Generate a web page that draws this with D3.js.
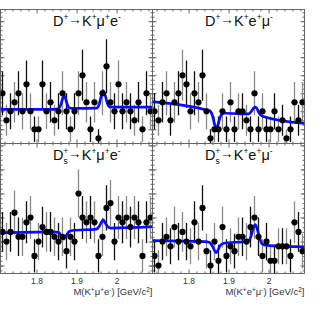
<!DOCTYPE html>
<html>
<head>
<meta charset="utf-8">
<script src="https://cdn.jsdelivr.net/npm/d3@7"></script>
<style>
body { margin: 0; background: #fff; }
svg { display: block; font-family: "Liberation Sans", Arial, sans-serif; }
</style>
</head>
<body>
<div id="chart"></div>
<script>

// 10 MeV bins between 1.71 and 2.09 GeV
var massBins = d3.range(1.715, 2.09, 0.01);

// events per bin
var nDKmue   = [6,3,4,5,6,4,7,4,2,2,7,4,5,3,4,6,4,2,4,6,8,5,2,5,1,6,9,5,4,7,4,5,4,3,5,2,6,4];
var nDKemu   = [4,3,5,6,3,5,6,8,7,4,6,5,8,4,1,2,2,4,2,5,2,4,4,3,2,6,2,4,2,2,4,2,3,1,2,5,3,5];
var nDsKmue  = [17,15,17,21,16,16,19,20,12,15,18,17,17,16,15,16,13,16,15,25,20,19,20,19,12,16,22,23,15,20,19,20,18,20,19,12,19,20];
var nDsKemu  = [12,10,15,16,14,18,15,17,15,14,19,15,22,13,10,15,11,18,12,14,13,16,16,15,18,20,16,12,15,11,11,14,14,14,12,19,17,13];

// fit curves [mass, events]
var fitDKmue = [[1.71,4.22],[1.845,4.22],[1.855,4.3],[1.861,4.75],[1.866,5.5],[1.869,5.8],[1.872,5.5],[1.877,4.75],[1.883,4.35],[1.9,4.32],
                [1.95,4.35],[1.957,4.8],[1.963,5.9],[1.967,6.3],[1.971,5.9],[1.977,4.9],[1.983,4.48],[2.0,4.45],[2.09,4.45]];
var fitDKemu = [[1.71,5.07],[1.78,4.7],[1.84,4.2],[1.853,4.05],[1.86,3.5],[1.865,2.6],[1.869,2.15],[1.873,2.4],[1.878,3.2],[1.884,3.7],[1.89,3.78],
                [1.95,3.7],[1.958,4.05],[1.964,4.4],[1.967,4.45],[1.971,4.3],[1.977,3.75],[1.985,3.45],[2.09,2.65]];
var fitDsKmue = [[1.71,16.8],[1.84,17.0],[1.855,16.9],[1.862,16.2],[1.868,15.5],[1.874,16.2],[1.882,17.1],[1.89,17.3],
                 [1.95,17.6],[1.957,18.2],[1.963,19.1],[1.967,19.5],[1.971,19.0],[1.977,18.2],[1.985,17.8],[2.09,18.1]];
var fitDsKemu = [[1.71,15.2],[1.84,15.0],[1.853,14.8],[1.86,14.0],[1.866,13.0],[1.869,12.7],[1.873,13.1],[1.879,14.1],[1.886,14.6],
                 [1.95,15.1],[1.957,16.3],[1.963,18.0],[1.967,18.5],[1.971,17.8],[1.977,16.0],[1.984,14.5],[1.995,14.2],[2.09,13.9]];

var xMajor = [1.8, 1.9, 2.0];
var xLabels = ["1.8", "1.9", "2"];

var svg = d3.select("#chart").append("svg")
    .attr("width", 322)
    .attr("height", 309);

var colX = [0.5, 152.5];
var rowY = [[9.5, 143.5], [143.5, 273.5]];
var rowDomain = [[0.42, 15.3], [8.35, 35.4]];
var rowYMajor = [2, 5];
var rowYMinor = [0.5, 1];

var panels = [
    { col: 0, row: 0, counts: nDKmue, fit: fitDKmue,
      title: [["D",""],["+","sup"],["\u2192","arr"],["K",""],["+","sup"],["\u03bc",""],["+","sup"],["e",""],["-","sup"]] },
    { col: 1, row: 0, counts: nDKemu, fit: fitDKemu,
      title: [["D",""],["+","sup"],["\u2192","arr"],["K",""],["+","sup"],["e",""],["+","sup"],["\u03bc",""],["-","sup"]] },
    { col: 0, row: 1, counts: nDsKmue, fit: fitDsKmue, xtitle: "mue",
      title: [["D",""],["s","sub"],["+","supb"],["\u2192","arr"],["K",""],["+","sup"],["\u03bc",""],["+","sup"],["e",""],["-","sup"]] },
    { col: 1, row: 1, counts: nDsKemu, fit: fitDsKemu, xtitle: "emu",
      title: [["D",""],["s","sub"],["+","supb"],["\u2192","arr"],["K",""],["+","sup"],["e",""],["+","sup"],["\u03bc",""],["-","sup"]] }
];

function styleAxis(g) {
    g.select(".domain").remove();
    g.selectAll(".tick line").attr("stroke", "#666").attr("stroke-width", 1);
    g.selectAll(".tick text").attr("fill", "#333").style("font-size", "8.5px")
        .style("font-family", "'Liberation Sans', Arial, sans-serif");
}

function drawPanel(p, idx) {
    var x0 = colX[p.col], x1 = x0 + 152;
    var y0 = rowY[p.row][0], y1 = rowY[p.row][1];

    var x = d3.scaleLinear().domain([1.71, 2.09]).range([x0, x1]);
    var y = d3.scaleLinear().domain(rowDomain[p.row]).range([y1, y0]);

    var g = svg.append("g");

    g.append("clipPath").attr("id", "clip" + idx)
        .append("rect").attr("x", x0).attr("y", y0).attr("width", x1 - x0).attr("height", y1 - y0);

    // axes, ticks pointing inwards
    var xMinor = d3.range(1.72, 2.09, 0.02).filter(function (v) {
        return xMajor.every(function (m) { return Math.abs(m - v) > 0.005; });
    });
    var dom = rowDomain[p.row];
    var yMaj = d3.range(Math.ceil(dom[0] / rowYMajor[p.row]) * rowYMajor[p.row], dom[1], rowYMajor[p.row]);
    var yMin = d3.range(Math.ceil(dom[0] / rowYMinor[p.row]) * rowYMinor[p.row], dom[1], rowYMinor[p.row]);

    var bottom = g.append("g").attr("transform", "translate(0," + y1 + ")");
    bottom.append("g").call(d3.axisBottom(x).tickValues(xMinor).tickSize(-2).tickFormat("")).call(styleAxis);
    bottom.append("g").call(d3.axisBottom(x).tickValues(xMajor).tickSize(-4).tickPadding(4)
        .tickFormat(function (d, i) { return p.row === 1 ? xLabels[i] : ""; })).call(styleAxis);

    var top = g.append("g").attr("transform", "translate(0," + y0 + ")");
    top.append("g").call(d3.axisTop(x).tickValues(xMinor).tickSize(-2).tickFormat("")).call(styleAxis);
    top.append("g").call(d3.axisTop(x).tickValues(xMajor).tickSize(-4).tickFormat("")).call(styleAxis);

    var left = g.append("g").attr("transform", "translate(" + x0 + ",0)");
    left.append("g").call(d3.axisLeft(y).tickValues(yMin).tickSize(-2).tickFormat("")).call(styleAxis);
    left.append("g").call(d3.axisLeft(y).tickValues(yMaj).tickSize(-4).tickFormat("")).call(styleAxis);

    var right = g.append("g").attr("transform", "translate(" + x1 + ",0)");
    right.append("g").call(d3.axisRight(y).tickValues(yMin).tickSize(-2).tickFormat("")).call(styleAxis);
    right.append("g").call(d3.axisRight(y).tickValues(yMaj).tickSize(-4).tickFormat("")).call(styleAxis);

    g.append("rect")
        .attr("x", x0).attr("y", y0).attr("width", x1 - x0).attr("height", y1 - y0)
        .attr("fill", "none").attr("stroke", "#666").attr("stroke-width", 1);

    var data = massBins.map(function (m, i) { return { m: m, n: p.counts[i], i: i }; });
    var marks = g.append("g").attr("clip-path", "url(#clip" + idx + ")");

    // Poisson error bars
    marks.selectAll(".err").data(data).enter().append("line")
        .attr("x1", function (d) { return x(d.m); })
        .attr("x2", function (d) { return x(d.m); })
        .attr("y1", function (d) { return y(d.n - Math.sqrt(d.n)); })
        .attr("y2", function (d) { return y(d.n + Math.sqrt(d.n)); })
        .attr("stroke", function (d) { return d.i % 2 ? "#8a8a8a" : "#111"; })
        .attr("stroke-width", 1.3);

    var line = d3.line()
        .x(function (d) { return x(d[0]); })
        .y(function (d) { return y(d[1]); })
        .curve(d3.curveMonotoneX);

    marks.append("path")
        .datum(p.fit)
        .attr("d", line)
        .attr("fill", "none")
        .attr("stroke", "#0a0aff")
        .attr("stroke-width", 2.7);

    marks.selectAll(".pt").data(data).enter().append("circle")
        .attr("cx", function (d) { return x(d.m); })
        .attr("cy", function (d) { return y(d.n); })
        .attr("r", 3.1)
        .attr("fill", "#000");

    // channel label
    var t = g.append("text")
        .attr("x", x0 + 52.5)
        .attr("y", y0 + 16.5)
        .attr("fill", "#111")
        .style("font-size", "14.5px");
    var shift = 0;
    p.title.forEach(function (part) {
        var s = t.append("tspan").text(part[0]);
        if (part[1] === "sup") {
            s.attr("dy", -6 - shift).style("font-size", "8.5px");
            shift = -6;
        } else if (part[1] === "sub") {
            s.attr("dy", 4 - shift).style("font-size", "8.5px");
            shift = 4;
        } else if (part[1] === "supb") {
            s.attr("dx", -4.5).attr("dy", -6 - shift).style("font-size", "8.5px");
            shift = -6;
        } else if (part[1] === "arr") {
            s.attr("dx", -0.5).attr("dy", -2 - shift).style("font-size", "14px");
            shift = -2;
        } else {
            s.attr("dy", -shift);
            shift = 0;
        }
    });

    if (p.xtitle) {
        var a = g.append("text")
            .attr("x", x1)
            .attr("y", 295)
            .attr("text-anchor", "end")
            .attr("fill", "#333")
            .style("font-size", "9.5px");
        var parts = p.xtitle === "mue"
            ? [["M(K",""],["+","sup"],["\u03bc",""],["+","sup"],["e",""],["-","sup"],[") [GeV/c",""],["2","sup"],["]",""]]
            : [["M(K",""],["+","sup"],["e",""],["+","sup"],["\u03bc",""],["-","sup"],[") [GeV/c",""],["2","sup"],["]",""]];
        var sh = 0;
        parts.forEach(function (part) {
            var s = a.append("tspan").text(part[0]);
            if (part[1] === "sup") {
                s.attr("dy", -3.5 - sh).style("font-size", "6.5px");
                sh = -3.5;
            } else {
                s.attr("dy", -sh);
                sh = 0;
            }
        });
    }
}

panels.forEach(drawPanel);

</script>
</body>
</html>
